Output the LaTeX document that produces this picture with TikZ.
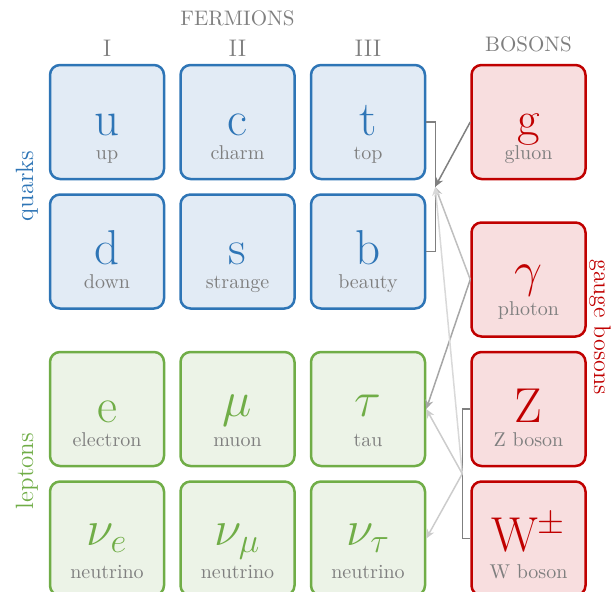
\documentclass[tikz,border=0pt]{standalone}
\usetikzlibrary{positioning,calc,arrows.meta}

\definecolor{qblue}{RGB}{46,117,182}
\definecolor{qfill}{RGB}{226,235,245}
\definecolor{lgreen}{RGB}{112,173,71}
\definecolor{lfill}{RGB}{236,243,231}
\definecolor{bred}{RGB}{192,0,0}
\definecolor{bfill}{RGB}{248,222,223}
\definecolor{txtgrey}{RGB}{127,127,127}

\tikzset{
  particle/.style={draw, rounded corners=5pt, line width=1.25pt,
    minimum width=57pt, minimum height=57pt, inner sep=0pt,
    font=\fontsize{24.5}{25}\selectfont, text height=16pt, text depth=3pt},
  quark/.style={particle, draw=qblue, fill=qfill, text=qblue},
  lepton/.style={particle, draw=lgreen, fill=lfill, text=lgreen},
  boson/.style={particle, draw=bred, fill=bfill, text=bred},
  greek/.style={text height=10pt, text depth=3pt},
  pname/.style={anchor=base, text=txtgrey, font=\fontsize{10}{12}\selectfont},
  header/.style={anchor=base, text=txtgrey, font=\fontsize{10.5}{12}\selectfont},
  genlbl/.style={anchor=base, text=txtgrey, font=\fontsize{12}{14}\selectfont},
  side/.style={anchor=base, font=\fontsize{12.5}{14}\selectfont},
  brk/.style={draw=txtgrey, line width=0.75pt},
  arr/.style={-{Stealth[length=4.5pt,width=4pt]}, line width=0.75pt},
}

\begin{document}
\begin{tikzpicture}[x=0.5pt, y=-0.5pt, node distance=6.5pt and 7pt]
  \useasboundingbox (0,0) rectangle (614,591);
  \clip (0,0) rectangle (614,591);

  % quarks
  \node (u) [quark] at (107,122) {u};
  \node (c) [quark, right=of u] {c};
  \node (t) [quark, right=of c] {t};
  \node (d) [quark, below=of u] {d};
  \node (s) [quark, right=of d] {s};
  \node (b) [quark, right=of s] {b};

  % leptons
  \node (e) [lepton, below=20.5pt of d] {e};
  \node (mu) [lepton, greek, right=of e] {$\mu$};
  \node (tau) [lepton, greek, right=of mu] {$\tau$};
  \node (nue) [lepton, greek, below=of e] {$\nu_e$};
  \node (numu) [lepton, greek, right=of nue] {$\nu_\mu$};
  \node (nutau) [lepton, greek, right=of numu] {$\nu_\tau$};

  % bosons
  \node (g) [boson, right=22pt of t] {g};
  \node (photon) [boson, greek, below=20.5pt of g] {$\gamma$};
  \node (Z) [boson, below=of photon] {Z};
  \node (W) [boson, below=of Z] {W$^{\pm}$};

  % names
  \node (upl) [pname] at ([yshift=-18.5pt]u.center) {up};
  \node (charml) [pname] at ([yshift=-18.5pt]c.center) {charm};
  \node (topl) [pname] at ([yshift=-18.5pt]t.center) {top};
  \node (downl) [pname] at ([yshift=-18.5pt]d.center) {down};
  \node (strangel) [pname] at ([yshift=-18.5pt]s.center) {strange};
  \node (beautyl) [pname] at ([yshift=-18.5pt]b.center) {beauty};
  \node (electronl) [pname] at ([yshift=-18.5pt]e.center) {electron};
  \node (muonl) [pname] at ([yshift=-18.5pt]mu.center) {muon};
  \node (taul) [pname] at ([yshift=-18.5pt]tau.center) {tau};
  \node (nuel) [pname] at ([yshift=-20pt]nue.center) {neutrino};
  \node (numul) [pname] at ([yshift=-20pt]numu.center) {neutrino};
  \node (nutaul) [pname] at ([yshift=-20pt]nutau.center) {neutrino};
  \node (gluonl) [pname] at ([yshift=-18.5pt]g.center) {gluon};
  \node (photonl) [pname] at ([yshift=-18pt]photon.center) {photon};
  \node (Zl) [pname] at ([yshift=-18.5pt]Z.center) {Z boson};
  \node (Wl) [pname] at ([yshift=-20pt]W.center) {W boson};

  % headings
  \node (fermions) [header] at ([yshift=19pt]c.north) {FERMIONS};
  \node (bosons) [header] at ([yshift=6pt]g.north) {BOSONS};
  \node (gen1) [genlbl] at ([yshift=3.5pt]u.north) {I};
  \node (gen2) [genlbl] at ([yshift=3.5pt]c.north) {II};
  \node (gen3) [genlbl] at ([yshift=3.5pt]t.north) {III};
  \node (quarks) [side, text=qblue, rotate=90] at (33,186) {quarks};
  \node (leptons) [side, text=lgreen, rotate=90] at (33,471) {leptons};
  \node (gauge) [side, text=bred, rotate=-90, font=\fontsize{12}{14}\selectfont] at (594,327) {gauge bosons};

  % brackets
  \draw [brk] (t.east) -- ++(4.5pt,0) |- (b.east);
  \draw [brk] (Z.west) -- ++(-4pt,0) |- (W.west);
  \coordinate (qmid) at ($(t.east)!0.5!(b.east)+(4.5pt,0)$);
  \coordinate (zwmid) at ($(Z.west)!0.5!(W.west)+(-4pt,0)$);

  % interactions
  \draw [arr, draw=black!50, fill=black!50] (g.west) -- (qmid);
  \draw [arr, draw=black!25, fill=black!25] (photon.west) -- (qmid);
  \draw [arr, draw=black!35, fill=black!35] (photon.west) -- (tau.east);
  \draw [arr, draw=black!15, fill=black!15] (zwmid) -- (qmid);
  \draw [arr, draw=black!20, fill=black!20] (zwmid) -- (tau.east);
  \draw [arr, draw=black!20, fill=black!20] (zwmid) -- (nutau.east);
\end{tikzpicture}
\end{document}
